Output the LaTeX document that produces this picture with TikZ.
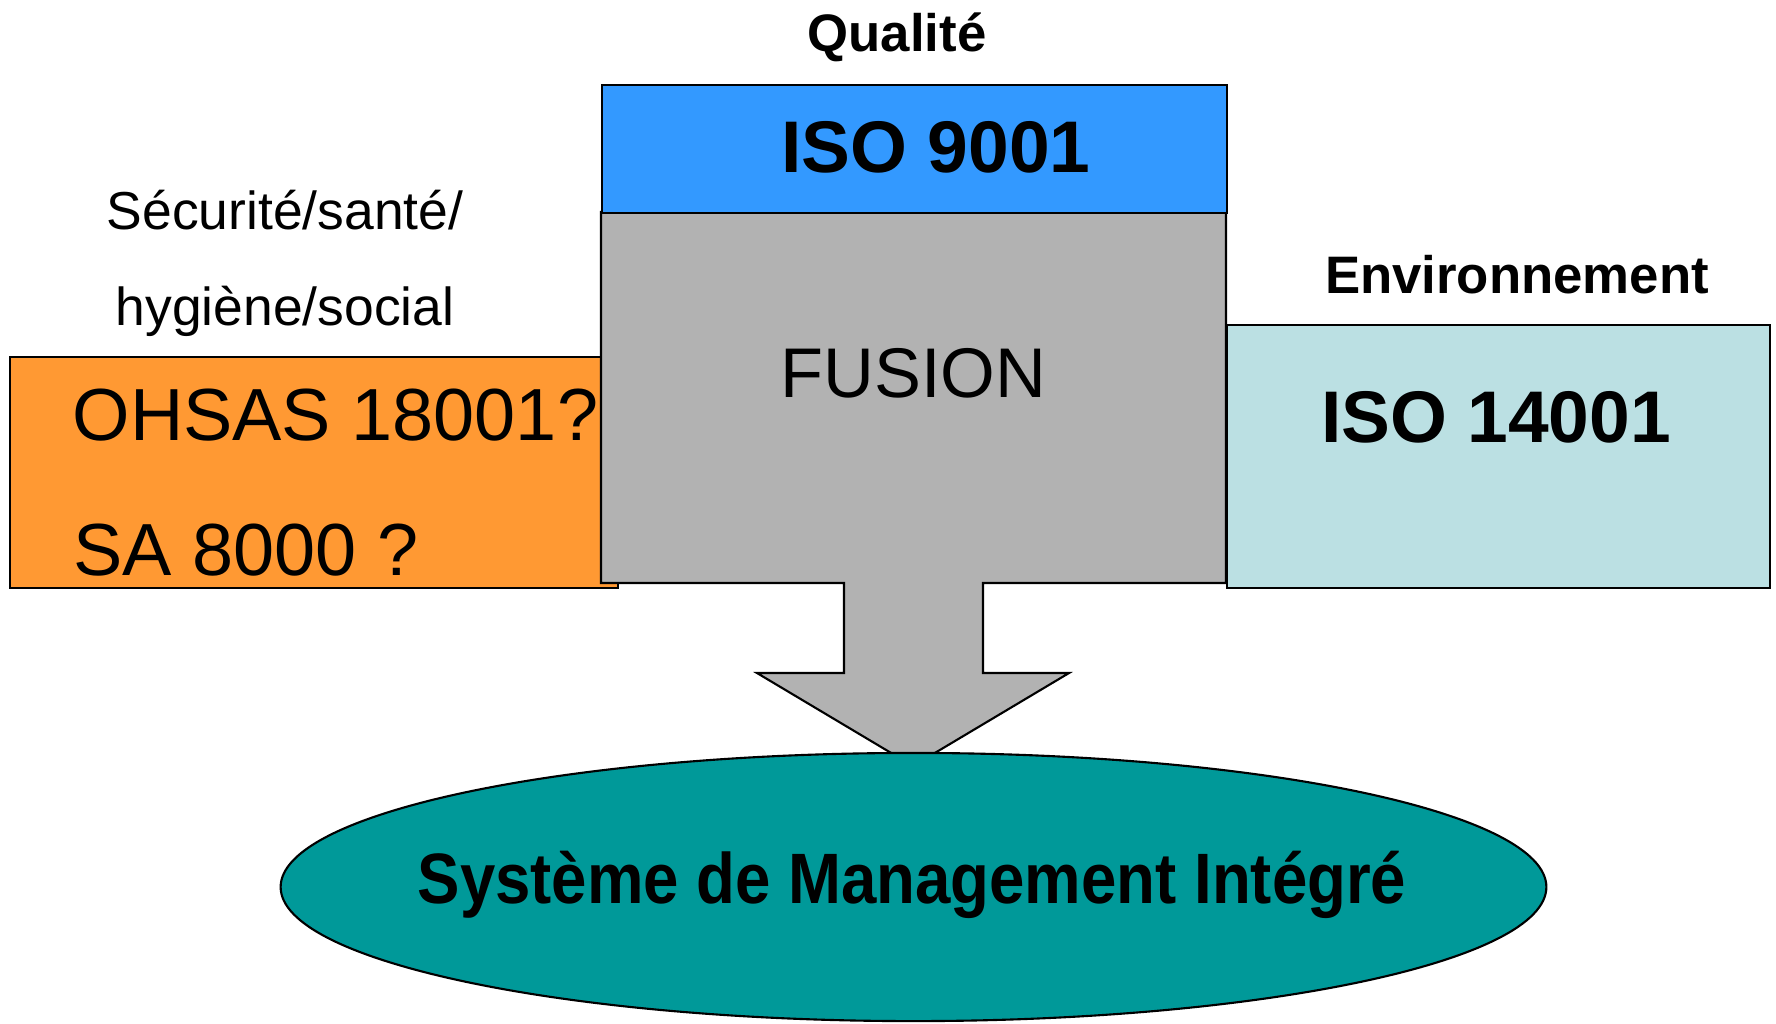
\documentclass[tikz,border=0pt]{standalone}
\usepackage{fontspec}
\usetikzlibrary{shapes.geometric}
\setmainfont{Liberation Sans}
\newfontfamily\narrowsans[FakeStretch=0.89]{Liberation Sans}

\definecolor{isoblue}{RGB}{51,153,255}
\definecolor{fusiongray}{RGB}{178,178,178}
\definecolor{ohsasorange}{RGB}{255,153,51}
\definecolor{envblue}{RGB}{187,224,227}
\definecolor{smiteal}{RGB}{0,153,153}

\begin{document}
\begin{tikzpicture}[
    x=0.01cm, y=-0.01cm,
    box node/.style={draw=black, line width=0.6pt, rectangle, inner sep=0pt, anchor=north west},
    title node/.style={font=\bfseries\fontsize{15}{18}\selectfont, anchor=base, inner sep=0pt},
    theme node/.style={font=\fontsize{15.2}{18}\selectfont, anchor=base, inner sep=0pt},
    norm node/.style={font=\bfseries\fontsize{20.8}{24}\selectfont, anchor=base, inner sep=0pt},
    draft node/.style={font=\fontsize{21}{24}\selectfont, anchor=base west, inner sep=0pt}
]

% page frame
\useasboundingbox (0,0) rectangle (1776,1023);

%================BOXES================
% health & safety (sits under the merged block)
\node[box node, fill=ohsasorange, minimum width=6.08cm, minimum height=2.31cm] (ohsas) at (9,356) {};

% merged block with its arrow, one outline
\draw[fill=fusiongray, line width=0.6pt, line join=miter]
    (601,212) -- (1226,212) -- (1226,583) -- (983,583) -- (983,673)
    -- (1069,673) -- (913,766) -- (757,673) -- (844,673) -- (844,583)
    -- (601,583) -- cycle;
\coordinate (fusion) at (913.5,397);

\node[box node, fill=isoblue, minimum width=6.25cm, minimum height=1.28cm] (quality) at (601,84) {};
\node[box node, fill=envblue, minimum width=5.43cm, minimum height=2.63cm] (env) at (1226,324) {};

% integrated system
\node[draw=black, line width=0.6pt, ellipse, fill=smiteal,
      minimum width=12.65cm, minimum height=2.68cm, inner sep=0pt] (smi) at (913.5,887) {};

%================TEXTS================
\node[title node] (qualityTitle) at (897,51) {Qualité};
\node[norm node] (iso9001) at (936,172) {ISO 9001};
\node[font=\fontsize{20}{24}\selectfont, anchor=base, inner sep=0pt] (fusionText) at (fusion) {FUSION};

\node[theme node] (theme1) at (285,229) {Sécurité/santé/};
\node[theme node] (theme2) at (285,325) {hygiène/social};
\node[draft node] (ohsasText) at (72,440) {OHSAS 18001?};
\node[draft node] (saText) at (73,575) {SA 8000 ?};

\node[title node] (envTitle) at (1517,293) {Environnement};
\node[norm node] (iso14001) at (1496,442) {ISO 14001};

\node[font=\narrowsans\bfseries\fontsize{20.3}{24}\selectfont, anchor=base, inner sep=0pt] (smiText) at (912,903) {Système de Management Intégré};

\end{tikzpicture}
\end{document}
